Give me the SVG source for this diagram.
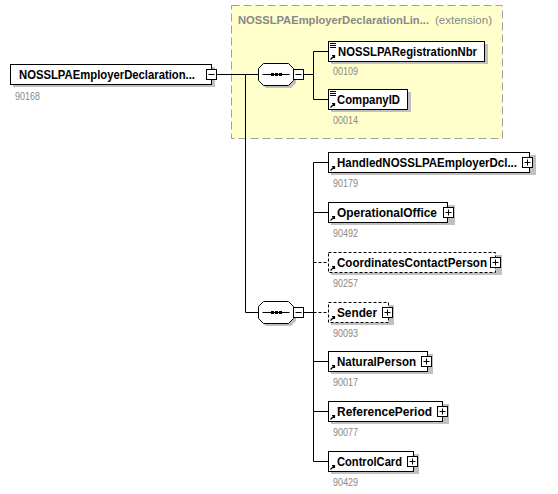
<svg xmlns="http://www.w3.org/2000/svg" width="558" height="494" viewBox="0 0 558 494">
<style>
.box{fill:#fff;stroke:#000;stroke-width:1}
.dbox{fill:#fff;stroke:#000;stroke-width:1;stroke-dasharray:3,2}
.sh{fill:#c0c0c0}
.lbl{font-family:"Liberation Sans",Arial,sans-serif;font-weight:bold;font-size:12px;fill:#000}
.num{font-family:"Liberation Sans",Arial,sans-serif;font-size:10px;fill:#888}
.ln{stroke:#000;stroke-width:1;fill:none}
.dl{stroke:#000;stroke-width:1;fill:none;stroke-dasharray:3,2}
.sq{fill:#fff;stroke:#000;stroke-width:1}
</style>
<defs>
<g id="minus"><rect class="sq" x="0.5" y="0.5" width="10" height="10"/><path class="ln" d="M2.5,5.5H8.5"/></g>
<g id="plus"><rect class="sq" x="0.5" y="0.5" width="10" height="10"/><path class="ln" d="M2.5,5.5H8.5M5.5,2.5V8.5"/></g>
<path id="arr" d="M0.5,5.5L4.5,1.5M2,1.5H4.5V4" stroke="#000" stroke-width="1.2" fill="none"/>
<g id="eq"><path d="M0,0.5H6M0,2.5H6M0,4.5H6" stroke="#000" stroke-width="1"/></g>
<g id="seq">
<path class="sh" d="M8,3H33L38,8V20L33,25H8L3,20V8Z"/>
<path fill="#fff" stroke="#000" d="M5.5,0.5H30.5L35.5,5.5V17.5L30.5,22.5H5.5L0.5,17.5V5.5Z"/>
<path class="ln" d="M4.5,11.5H31.5"/>
<rect x="13" y="10" width="3" height="3" fill="#000"/><rect x="17" y="10" width="3" height="3" fill="#000"/><rect x="21" y="10" width="3" height="3" fill="#000"/>
</g>
</defs>

<g id="extension">
<rect x="231.5" y="5.5" width="271" height="133" fill="#ffffcc" stroke="#a0a0a0" stroke-dasharray="8,4"/>
<text x="238" y="24" font-family="Liberation Sans,Arial,sans-serif" font-size="11" font-weight="bold" fill="#888" textLength="191" lengthAdjust="spacingAndGlyphs">NOSSLPAEmployerDeclarationLin...</text>
<text x="435" y="24" font-family="Liberation Sans,Arial,sans-serif" font-size="11" fill="#888" textLength="57" lengthAdjust="spacingAndGlyphs">(extension)</text>
</g>

<g id="connectors">
<path class="ln" d="M217,74.5H258M245.5,74.5V312.5H259"/>
<path class="ln" d="M304,74.5H313.5M313.5,51.5V99.5M313.5,51.5H328M313.5,99.5H328"/>
<path class="ln" d="M304,312.5H313.5M313.5,162.5V461.5M313.5,162.5H328M313.5,212.5H328M313.5,361.5H328M313.5,411.5H328M313.5,461.5H328"/>
<path class="dl" d="M313.5,262.5H328M313.5,312.5H328"/>
</g>

<g id="root">
<rect class="sh" x="13" y="67" width="202" height="20"/>
<rect class="box" x="10.5" y="64.5" width="201" height="20"/>
<text class="lbl" x="19" y="79" textLength="176" lengthAdjust="spacingAndGlyphs">NOSSLPAEmployerDeclaration...</text>
<use href="#minus" x="206" y="69"/>
<text class="num" x="15" y="100" textLength="25" lengthAdjust="spacingAndGlyphs">90168</text>
</g>

<g id="seq1"><use href="#seq" x="258" y="63"/><use href="#minus" x="293" y="69"/></g>
<g id="seq2"><use href="#seq" x="258" y="301"/><use href="#minus" x="293" y="307"/></g>

<g id="n_reg">
<rect class="sh" x="331" y="44" width="157" height="20"/>
<rect class="box" x="328.5" y="41.5" width="156" height="20"/>
<use href="#eq" x="330" y="43"/><use href="#arr" x="330" y="54"/>
<text class="lbl" x="338" y="56" textLength="139" lengthAdjust="spacingAndGlyphs">NOSSLPARegistrationNbr</text>
<text class="num" x="333" y="75" textLength="25" lengthAdjust="spacingAndGlyphs">00109</text>
</g>
<g id="n_comp">
<rect class="sh" x="331" y="92" width="80" height="20"/>
<rect class="box" x="328.5" y="89.5" width="79" height="20"/>
<use href="#eq" x="330" y="91"/><use href="#arr" x="330" y="102"/>
<text class="lbl" x="337" y="104" textLength="63" lengthAdjust="spacingAndGlyphs">CompanyID</text>
<text class="num" x="333" y="124" textLength="25" lengthAdjust="spacingAndGlyphs">00014</text>
</g>

<g id="n_handled">
<rect class="sh" x="331" y="155" width="205" height="20"/>
<rect class="box" x="328.5" y="152.5" width="201" height="20"/>
<use href="#arr" x="330" y="165"/>
<text class="lbl" x="337" y="167" textLength="180" lengthAdjust="spacingAndGlyphs">HandledNOSSLPAEmployerDcl...</text>
<use href="#plus" x="522" y="157"/>
<text class="num" x="333" y="187" textLength="25" lengthAdjust="spacingAndGlyphs">90179</text>
</g>
<g id="n_op">
<rect class="sh" x="331" y="205" width="124" height="20"/>
<rect class="box" x="328.5" y="202.5" width="119" height="20"/>
<use href="#arr" x="330" y="215"/>
<text class="lbl" x="337" y="217" textLength="100" lengthAdjust="spacingAndGlyphs">OperationalOffice</text>
<use href="#plus" x="443" y="207"/>
<text class="num" x="333" y="237" textLength="25" lengthAdjust="spacingAndGlyphs">90492</text>
</g>
<g id="n_coord">
<rect class="sh" x="331" y="255" width="171" height="20"/>
<rect class="dbox" x="328.5" y="252.5" width="167" height="20"/>
<use href="#arr" x="330" y="265"/>
<text class="lbl" x="337" y="267" textLength="150" lengthAdjust="spacingAndGlyphs">CoordinatesContactPerson</text>
<use href="#plus" x="490" y="257"/>
<text class="num" x="333" y="287" textLength="25" lengthAdjust="spacingAndGlyphs">90257</text>
</g>
<g id="n_sender">
<rect class="sh" x="331" y="305" width="63" height="20"/>
<rect class="dbox" x="328.5" y="302.5" width="60" height="20"/>
<use href="#arr" x="330" y="315"/>
<text class="lbl" x="337" y="317" textLength="40" lengthAdjust="spacingAndGlyphs">Sender</text>
<use href="#plus" x="382" y="307"/>
<text class="num" x="333" y="337" textLength="25" lengthAdjust="spacingAndGlyphs">90093</text>
</g>
<g id="n_natural">
<rect class="sh" x="331" y="354" width="102" height="20"/>
<rect class="box" x="328.5" y="351.5" width="99" height="20"/>
<use href="#arr" x="330" y="364"/>
<text class="lbl" x="337" y="366" textLength="79" lengthAdjust="spacingAndGlyphs">NaturalPerson</text>
<use href="#plus" x="421" y="356"/>
<text class="num" x="333" y="386" textLength="25" lengthAdjust="spacingAndGlyphs">90017</text>
</g>
<g id="n_ref">
<rect class="sh" x="331" y="404" width="118" height="20"/>
<rect class="box" x="328.5" y="401.5" width="114" height="20"/>
<use href="#arr" x="330" y="414"/>
<text class="lbl" x="337" y="416" textLength="95" lengthAdjust="spacingAndGlyphs">ReferencePeriod</text>
<use href="#plus" x="437" y="406"/>
<text class="num" x="333" y="436" textLength="25" lengthAdjust="spacingAndGlyphs">90077</text>
</g>
<g id="n_ctrl">
<rect class="sh" x="331" y="454" width="88" height="20"/>
<rect class="box" x="328.5" y="451.5" width="85" height="20"/>
<use href="#arr" x="330" y="464"/>
<text class="lbl" x="337" y="466" textLength="65" lengthAdjust="spacingAndGlyphs">ControlCard</text>
<use href="#plus" x="407" y="456"/>
<text class="num" x="333" y="486" textLength="25" lengthAdjust="spacingAndGlyphs">90429</text>
</g>
</svg>
